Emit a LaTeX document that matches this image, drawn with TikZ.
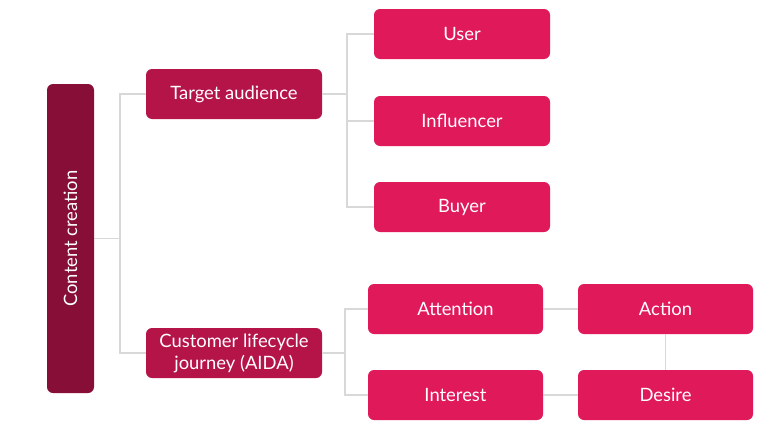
\documentclass[tikz,border=0pt]{standalone}
\usepackage{fontspec}
\setmainfont{Lato}
\usepackage{xcolor}
\usepackage{tikz}
\usetikzlibrary{positioning}
\definecolor{root}{HTML}{860E37}
\definecolor{mid}{HTML}{B51449}
\definecolor{leaf}{HTML}{E0195B}
\definecolor{wire}{HTML}{D8D8D8}

\begin{document}
\begin{tikzpicture}[x=0.75pt,y=-0.75pt,font=\fontsize{13.8}{16.5}\selectfont,
  top/.style={fill=root,text=white,rounded corners=4.5pt,rotate=90,minimum width=231.75pt,minimum height=35.25pt,inner sep=0pt},
  sub/.style={fill=mid,text=white,rounded corners=4.5pt,align=center,minimum width=132pt,minimum height=37.5pt,inner sep=0pt},
  leaf/.style={fill=leaf,text=white,rounded corners=4.5pt,align=center,minimum width=132pt,minimum height=37.5pt,inner sep=0pt},
  link/.style={draw=wire,line width=0.9pt}]
\useasboundingbox (0,0) rectangle (768,432);
% root
\node[top] (cc) at (70.5,238.5) {Content creation};
% level 2
\node[sub] (ta) at (234,94) {Target audience};
\node[sub] (cj) at (234,353) {Customer lifecycle\\journey (AIDA)};
% audience
\node[leaf] (us) at (462,34) {User};
\node[leaf] (in) at (462,121) {Influencer};
\node[leaf] (bu) at (462,207) {Buyer};
% AIDA
\node[leaf,minimum width=131.25pt] (at) at (455.5,309) {Attention};
\node[leaf,minimum width=131.25pt] (ir) at (455.5,395) {Interest};
\node[leaf,minimum width=131.25pt] (ac) at (665.5,309) {Action};
\node[leaf,minimum width=131.25pt] (de) at (665.5,395) {Desire};
% junctions
\coordinate (j1) at (120,238.5);
\coordinate (j2) at (347,94);
\coordinate (j3) at (345,353);
% links
\draw[link] (cc.south) -- (j1) |- (ta.west);
\draw[link] (j1) |- (cj.west);
\draw[link] (ta.east) -- (j2) |- (us.west);
\draw[link] (j2) |- (in.west);
\draw[link] (j2) |- (bu.west);
\draw[link] (cj.east) -- (j3) |- (at.west);
\draw[link] (j3) |- (ir.west);
\draw[link] (at.east) -- (ac.west);
\draw[link] (ir.east) -- (de.west);
\draw[link] (ac.south) -- (de.north);
\end{tikzpicture}
\end{document}
